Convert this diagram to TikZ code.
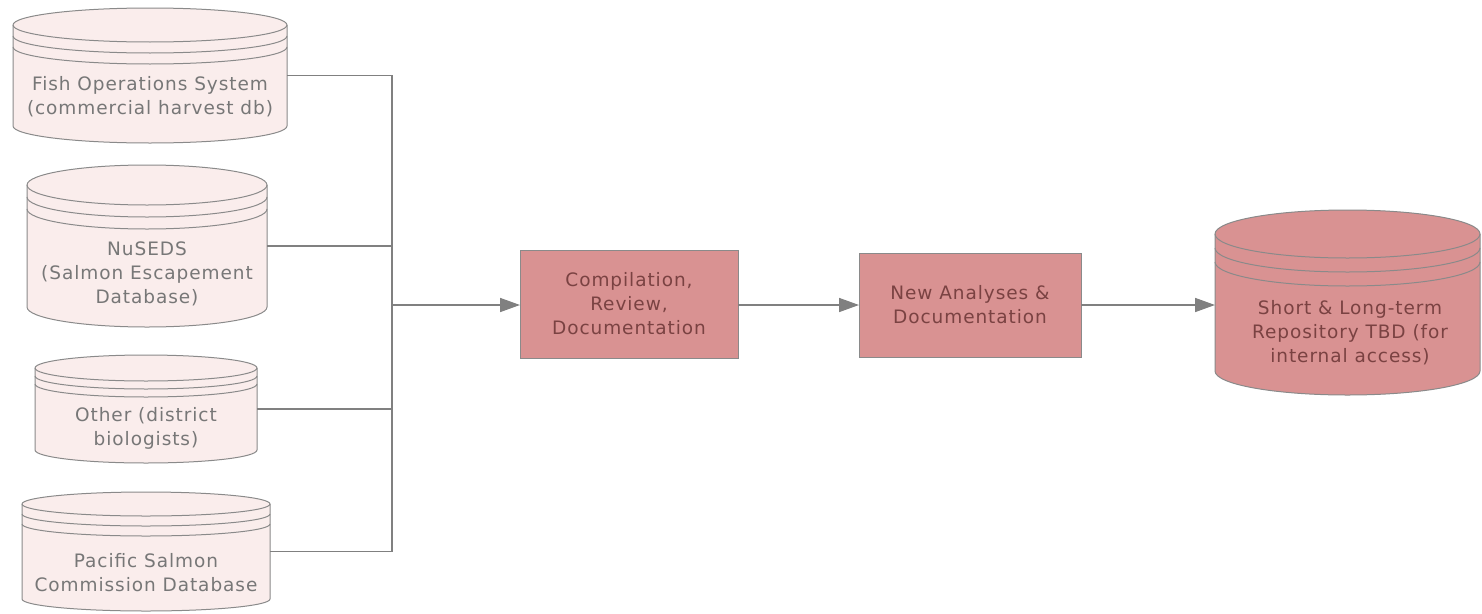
\documentclass[tikz,border=0pt]{standalone}
\usepackage{fontspec}
\setmainfont{DejaVu Sans}[LetterSpace=5]
\usetikzlibrary{arrows.meta}
\definecolor{lightfill}{HTML}{FAEDEC}
\definecolor{darkfill}{HTML}{D99292}
\definecolor{edgegray}{HTML}{8A8A8A}
\definecolor{linegray}{HTML}{808080}
\definecolor{lighttext}{HTML}{777777}
\definecolor{darktext}{HTML}{7A4242}
\tikzset{
  dblight/.style={draw=edgegray,line width=1pt,fill=lightfill},
  dbdark/.style={draw=edgegray,line width=1pt,fill=darkfill},
  shapebox/.style={draw=none,fill=none,inner sep=0pt,outer sep=0pt,rectangle},
  dbtext/.style={align=center,text=lighttext,font=\fontsize{18.5pt}{24pt}\selectfont,inner sep=0pt},
  darktextstyle/.style={align=center,text=darktext,font=\fontsize{18.5pt}{24pt}\selectfont,inner sep=0pt},
  procbox/.style={draw=edgegray,line width=1pt,fill=darkfill,align=center,text=darktext,font=\fontsize{18.5pt}{24pt}\selectfont,inner sep=0pt,outer sep=0pt},
  conn/.style={draw=linegray,line width=1.6pt},
  arr/.style={conn,-{Triangle[length=20pt,width=14pt]}}
}
\newcommand{\dbcyl}[8]{%
  \pgfmathsetmacro\dbrx{(#3-#2)/2}%
  \pgfmathsetmacro\dbya{-(#4+#6)}%
  \pgfmathsetmacro\dbyb{-(#5-#6)}%
  \pgfmathsetmacro\dbyc{\dbya-#7}%
  \pgfmathsetmacro\dbyd{\dbya-2*#7}%
  \pgfmathsetmacro\dbcx{(#2+#3)/2}%
  \pgfmathsetmacro\dbcy{-(#4+#5)/2}%
  \pgfmathsetmacro\dbw{#3-#2}%
  \pgfmathsetmacro\dbh{#5-#4}%
  \draw[#8] (#2,\dbya) -- (#2,\dbyb) arc[start angle=180,end angle=360,x radius=\dbrx pt,y radius=#6 pt] -- (#3,\dbya) arc[start angle=0,end angle=180,x radius=\dbrx pt,y radius=#6 pt] -- cycle;
  \draw[#8,fill=none] (#2,\dbya) arc[start angle=180,end angle=360,x radius=\dbrx pt,y radius=#6 pt];
  \draw[#8,fill=none] (#2,\dbyc) arc[start angle=180,end angle=360,x radius=\dbrx pt,y radius=#6 pt];
  \draw[#8,fill=none] (#2,\dbyd) arc[start angle=180,end angle=360,x radius=\dbrx pt,y radius=#6 pt];
  \node[shapebox,minimum width=\dbw pt,minimum height=\dbh pt] (#1) at (\dbcx,\dbcy) {};
}
\begin{document}
\begin{tikzpicture}[x=1pt,y=1pt]
\useasboundingbox (0,0) rectangle (1482,-613);
\fill[white] (0,0) rectangle (1482,-613);
% source databases
\dbcyl{db1}{13}{287}{8}{143}{17}{11}{dblight}
\node[dbtext] (t1) at (150,-97) {Fish Operations System\\(commercial harvest db)};
\dbcyl{db2}{27}{267}{165}{327}{20}{12}{dblight}
\node[dbtext] (t2) at (147,-274) {NuSEDS\\(Salmon Escapement\\Database)};
\dbcyl{db3}{35}{257}{355}{463}{13}{8}{dblight}
\node[dbtext] (t3) at (146,-428) {Other (district\\biologists)};
\dbcyl{db4}{22}{270}{492}{611}{12}{10}{dblight}
\node[dbtext] (t4) at (146,-573) {Pacific Salmon\\Commission Database};
% process boxes
\node[procbox,minimum width=218pt,minimum height=108pt] (box1) at (629,-304) {Compilation,\\Review,\\Documentation};
\node[procbox,minimum width=222pt,minimum height=104pt] (box2) at (970,-305) {New Analyses \&\\Documentation};
% repository
\dbcyl{repo}{1215}{1480}{210}{395}{24}{14}{dbdark}
\node[darktextstyle] (t5) at (1350,-333) {Short \& Long-term\\Repository TBD (for\\internal access)};
% connectors
\coordinate (jn) at (392,-305);
\draw[conn] (db1.east) -| (jn);
\draw[conn] (db2.east) -| (jn);
\draw[conn] (db3.east) -| (jn);
\draw[conn] (db4.east) -| (jn);
\draw[arr] (jn) -- (jn -| box1.west);
\draw[arr] (box1.east |- jn) -- (box2.west |- jn);
\draw[arr] (box2.east |- jn) -- (repo.west |- jn);
\end{tikzpicture}
\end{document}
